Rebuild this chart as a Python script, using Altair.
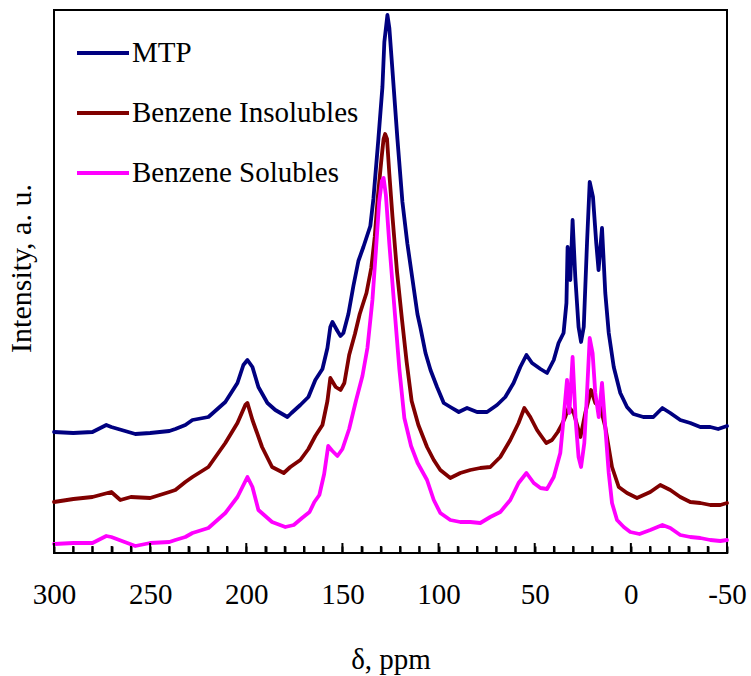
import altair as alt
import pandas as pd

# ---- data ----
series_names = ["MTP", "Benzene Insolubles", "Benzene Solubles"]
series_colors = ["#000080", "#800000", "#FF00FF"]

mtp_ppm = [300, 290, 280, 272.8, 270.2, 257.7, 250, 240, 236.9, 231.7, 228, 219.7, 210.9, 204.6,
           201.5, 199.4, 196.8, 193.7, 189, 184.9, 178.6, 176.5, 171.9, 167.7, 164.1, 160.4, 157.8,
           156.3, 155.2, 152.6, 151, 149.5, 146.9, 144.3, 141.7, 139.1, 135.5, 133.9, 131.3, 129.2,
           128.2, 126.6, 125.6, 124, 121.4, 118.8, 116.2, 113.6, 111, 109.4, 106.8, 104.2, 100.8,
           97.3, 93.9, 89.5, 85.2, 80, 74.8, 69.6, 65.3, 61, 57.5, 54.3, 51.4, 47, 43.6, 40.1, 37.6,
           35, 33.5, 32.9, 31.5, 30.3, 28.9, 27.2, 25.9, 24.5, 22.8, 21.4, 19.7, 18, 16.8, 15, 13.3,
           11.5, 8.9, 5.5, 2, -1.3, -6.5, -11.7, -16.4, -20.5, -25.7, -30.9, -36.1, -41.3, -45.4, -50]
mtp_int = [121, 120, 121, 128, 126, 119, 120, 122, 124, 128, 133, 136, 151, 170,
           188, 193, 186, 166, 150, 143, 136, 140, 148, 156, 173, 184, 205,
           226, 231, 222, 217, 220, 239, 267, 292, 306, 327, 354, 414, 466,
           511, 538, 525, 483, 414, 351, 309, 274, 239, 225, 200, 183, 166,
           150, 146, 141, 145, 141, 141, 148, 156, 170, 186, 198, 190, 184, 180, 193, 210,
           220, 250, 306, 273, 333, 276, 226, 211, 226, 310, 371, 356, 310, 283, 325, 260,
           220, 186, 160, 146, 139, 136, 136, 145, 140, 133, 130, 126, 126, 124, 127]

ins_ppm = [300, 289.9, 280, 270.2, 265.5, 260, 250, 240, 236.9, 231.7, 228, 219.7, 210.9, 204.6,
           200.5, 199.4, 196.8, 191.8, 186.6, 180.5, 177.1, 171.9, 167.7, 164.1, 160.4, 157.8,
           156.3, 153.5, 151, 149, 146.5, 143.5, 141, 137.5, 135, 133.2, 131.5, 129.6, 128.6,
           127.8, 126.8, 125.6, 124, 121.6, 119, 116.6, 114, 110.5, 106, 102.5, 99.1, 93.9, 88.7,
           83.5, 78.3, 73.1, 67.9, 62.7, 58.4, 55.4, 52.3, 48.8, 47, 44, 41, 38, 36, 34.1, 32.3,
           29.7, 26.2, 23.7, 20.7, 18.5, 15.9, 13.3, 9.8, 6.3, 2, -3.2, -10.1, -15.3, -20.5,
           -25.7, -30.9, -36.1, -41.3, -46.5, -50]
ins_int = [51, 54, 56, 61, 53, 56, 55, 61, 63, 71, 76, 86, 110, 130,
           148, 150, 133, 106, 86, 80, 86, 93, 104, 117, 128, 152,
           175, 166, 163, 170, 198, 219, 239, 260, 285, 316, 358, 396, 414,
           419, 414, 379, 337, 281, 233, 191, 152, 128, 106, 93, 83, 75, 80,
           83, 85, 86, 96, 113, 130, 145, 136, 123, 118, 110, 113, 121, 128, 136, 146,
           140, 116, 140, 163, 150, 146, 126, 86, 66, 60, 55, 61, 68, 63,
           56, 51, 50, 48, 48, 50]

sol_ppm = [300, 289.9, 280, 272.8, 270.2, 257.7, 250, 240, 236.9, 231.7, 228, 219.7, 210.9, 204.6,
           199.4, 196.8, 193.7, 186.6, 179.7, 175.3, 171, 167.1, 164.6, 162, 159.5, 157.4, 155.2,
           152.6, 150, 146.5, 143, 139.6, 137, 134.4, 132.6, 130.9, 129.5, 128.6, 127.4, 125.6,
           123, 120.4, 117.8, 114.3, 110.9, 106, 102.5, 99.1, 93.9, 88.7, 83.5, 78.3, 73.1, 67.9,
           62.7, 58.4, 54.3, 50.5, 47, 43.6, 40.1, 36.7, 35.4, 33.2, 32, 30.3, 28.7, 27.2, 25.9,
           24.2, 22.8, 21.4, 19.9, 18.5, 16.7, 15, 13.3, 11.5, 9.8, 7.2, 3.7, 0.3, -4.5, -10.1,
           -16.4, -20.5, -25.7, -30.9, -36.1, -41.3, -46.5, -50]
sol_int = [9, 10, 10, 17, 16, 7, 10, 11, 13, 16, 20, 25, 40, 56,
           76, 66, 43, 31, 26, 28, 35, 41, 51, 58, 79, 107, 102,
           97, 104, 124, 152, 177, 205, 253, 302, 351, 372, 375, 358, 309,
           246, 184, 135, 107, 90, 73, 53, 40, 33, 31, 31, 30, 36, 41,
           53, 70, 80, 70, 65, 64, 76, 100, 126, 173, 140, 196, 133, 96, 86,
           110, 160, 215, 200, 160, 136, 170, 126, 80, 50, 33, 26, 21, 19, 23,
           28, 25, 18, 16, 15, 13, 12, 13]

x_tick_labels = [300, 250, 200, 150, 100, 50, 0, -50]
all_ticks = list(range(300, -51, -10))

rows = []
for name, xs, ys in zip(series_names, [mtp_ppm, ins_ppm, sol_ppm], [mtp_int, ins_int, sol_int]):
    for i, (a, b) in enumerate(zip(xs, ys)):
        rows.append({"series": name, "ppm": a, "intensity": b, "idx": i})
df = pd.DataFrame(rows)

FONT = "Liberation Serif"
W, H = 673, 543
MAJOR_LEN, MINOR_LEN = 10, 7

x_scale = alt.Scale(domain=[-50, 300], reverse=True, nice=False, zero=False)
y_scale = alt.Scale(domain=[0, 543], nice=False, zero=False)

x_bottom = alt.X(
    "ppm:Q", scale=x_scale,
    axis=alt.Axis(orient="bottom", values=x_tick_labels, title="δ, ppm", ticks=False,
                  domain=False, grid=False, labelExpr="'' + datum.value",
                  labelFontSize=29, labelFont=FONT, labelColor="black", labelPadding=27,
                  labelFlush=False, titleFontSize=29, titleFont=FONT, titleFontWeight="normal",
                  titleColor="black", titleY=115, titleBaseline="alphabetic"),
)
# a second, label-less axis moved onto the bottom edge so its ticks point into the plot
x_inner = alt.X(
    "ppm:Q", scale=x_scale,
    axis=alt.Axis(orient="top", offset=-H, values=all_ticks, labels=False, domain=False,
                  grid=False, ticks=True, tickSize=MINOR_LEN, tickWidth=2, tickColor="black",
                  title=None),
)
y_enc = alt.Y("intensity:Q", scale=y_scale,
              axis=alt.Axis(title="Intensity, a. u.", labels=False, ticks=False, domain=False,
                            grid=False, titleFontSize=30, titleFont=FONT, titleFontWeight="normal",
                            titleColor="black", titleX=-24, titleY=258,
                            titleBaseline="alphabetic"))

# short inward tick strokes (major every 50, minor every 10), each a 2-point segment
tick_rows = []
for v in all_ticks:
    length = MAJOR_LEN if v % 50 == 0 else MINOR_LEN
    tick_rows.append({"ppm": v, "intensity": 0, "tid": str(v)})
    tick_rows.append({"ppm": v, "intensity": length, "tid": str(v)})
ticks_df = pd.DataFrame(tick_rows)

lines = alt.Chart(df).mark_line(strokeWidth=3.8, strokeJoin="round", strokeCap="round").encode(
    x=x_bottom,
    y=y_enc,
    color=alt.Color("series:N", sort=series_names,
                    scale=alt.Scale(domain=series_names, range=series_colors),
                    legend=alt.Legend(orient="none", legendX=21, legendY=15, title=None,
                                      symbolType="stroke", symbolSize=2704, symbolStrokeWidth=4,
                                      labelFontSize=29, labelFont=FONT, labelColor="black",
                                      labelOffset=1, rowPadding=17, labelLimit=500, padding=0)),
    order=alt.Order("idx:Q"),
    detail="series:N",
)

ticks = alt.Chart(ticks_df).mark_line(color="#000000", strokeWidth=2, strokeCap="butt").encode(
    x=x_inner,
    y=y_enc,
    detail="tid:N",
)

chart = alt.layer(lines, ticks).resolve_axis(x="independent").properties(
    width=W, height=H,
    autosize=alt.AutoSizeParams(type="none"),
    padding={"left": 54, "top": 10, "right": 24, "bottom": 123},
).configure(font=FONT).configure_view(stroke="black", strokeWidth=2)

chart.save("out.html", embed_options={"renderer": "svg", "actions": False})
